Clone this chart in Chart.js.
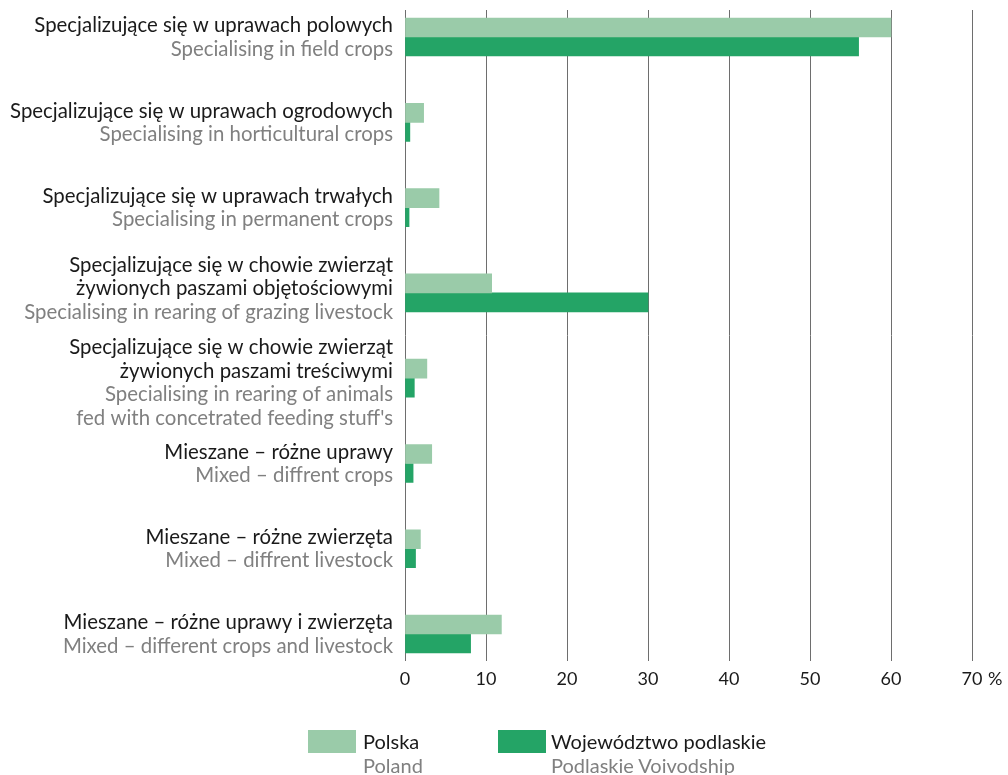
<!DOCTYPE html>
<html>
<head>
<meta charset="utf-8">
<script src="https://cdn.jsdelivr.net/npm/chart.js@4.4.1/dist/chart.umd.min.js"></script>
<style>
  html, body { margin: 0; padding: 0; background: #ffffff; }
  #wrap { position: absolute; left: 0; top: 0; width: 1008px; height: 775px; }
  .lg-sw { position: absolute; top: 730px; width: 48px; height: 23px; }
  .lg-tx { position: absolute; top: 729px; font-family: Lato, "Open Sans", sans-serif; font-size: 20px; line-height: 24px; white-space: nowrap; }
  .lg-tx .pl { color: #1a1a1a; }
  .lg-tx .en { color: #808080; }
</style>
</head>
<body>
<div id="wrap"><canvas id="chart"></canvas></div>
<div class="lg-sw" id="sw1" style="left:308px;"></div>
<div class="lg-tx" style="left:363px;"><div class="pl">Polska</div><div class="en">Poland</div></div>
<div class="lg-sw" id="sw2" style="left:498px;"></div>
<div class="lg-tx" style="left:551px;"><div class="pl">Województwo podlaskie</div><div class="en">Podlaskie Voivodship</div></div>
<script>
// ---- DATA ----
const labelsPL = [
  ["Specjalizujące się w uprawach polowych"],
  ["Specjalizujące się w uprawach ogrodowych"],
  ["Specjalizujące się w uprawach trwałych"],
  ["Specjalizujące się w chowie zwierząt", "żywionych paszami objętościowymi"],
  ["Specjalizujące się w chowie zwierząt", "żywionych paszami treściwymi"],
  ["Mieszane – różne uprawy"],
  ["Mieszane – różne zwierzęta"],
  ["Mieszane – różne uprawy i zwierzęta"]
];
const labelsEN = [
  ["Specialising in field crops"],
  ["Specialising in horticultural crops"],
  ["Specialising in permanent crops"],
  ["Specialising in rearing of grazing livestock"],
  ["Specialising in rearing of animals", "fed with concetrated feeding stuff's"],
  ["Mixed – diffrent crops"],
  ["Mixed – diffrent livestock"],
  ["Mixed – different crops and livestock"]
];
const polska    = [60, 2.3, 4.2, 10.7, 2.7, 3.3, 1.9, 11.9];
const podlaskie = [56, 0.6, 0.5, 30.0, 1.15, 1.0, 1.3, 8.1];
const xTickValues = [0, 10, 20, 30, 40, 50, 60, 70];
const seriesNames = ["Polska", "Województwo podlaskie"];

// ---- STYLE ----
const LIGHT = "#9acba9";
const DARK = "#24a466";
const FONT = "Lato, 'Open Sans', sans-serif";
const TICK_PAD = 7;
document.getElementById("sw1").style.background = LIGHT;
document.getElementById("sw2").style.background = DARK;

const toPoints = arr => arr.map((v, i) => ({ x: v, y: i }));

const labelPlugin = {
  id: "catLabels",
  afterDraw(chart, args, opts) {
    const ctx = chart.ctx;
    const ys = chart.scales.y;
    const xs = chart.scales.x;
    const lh = 23.5, capHalf = 7;
    ctx.save();
    ctx.font = "20.4px " + FONT;
    ctx.textAlign = "right";
    ctx.textBaseline = "alphabetic";
    for (let i = 0; i < labelsPL.length; i++) {
      const lines = labelsPL[i].map(t => [t, "#1a1a1a"]).concat(labelsEN[i].map(t => [t, "#808080"]));
      const c = ys.getPixelForValue(i) + (opts.shift[i] || 0);
      const start = c - (lines.length - 1) / 2 * lh + capHalf;
      lines.forEach((ln, k) => {
        ctx.fillStyle = ln[1];
        ctx.fillText(ln[0], xs.left - 12, start + k * lh);
      });
    }
    // percent sign after the last x tick
    ctx.font = "18px " + FONT;
    ctx.textAlign = "left";
    ctx.textBaseline = "middle";
    ctx.fillStyle = "#1a1a1a";
    const last = xTickValues[xTickValues.length - 1];
    const px = xs.getPixelForValue(last) + ctx.measureText(String(last)).width / 2 + ctx.measureText(" ").width + 1;
    ctx.fillText("%", px, xs.top + TICK_PAD + 10.8);
    ctx.restore();
  }
};

new Chart(document.getElementById("chart"), {
  type: "bar",
  data: {
    datasets: [
      { label: seriesNames[0], data: toPoints(polska), backgroundColor: LIGHT, borderWidth: 0 },
      { label: seriesNames[1], data: toPoints(podlaskie), backgroundColor: DARK, borderWidth: 0 }
    ]
  },
  plugins: [labelPlugin],
  options: {
    indexAxis: "y",
    responsive: true,
    maintainAspectRatio: false,
    animation: false,
    devicePixelRatio: 1,
    barThickness: 19,
    layout: { padding: { left: 405, right: 36, top: 10, bottom: 78 } },
    plugins: {
      legend: { display: false },
      tooltip: { enabled: false },
      catLabels: { shift: [0, 0, 0, -4.5, 4.5, 0, 0, 0] }
    },
    scales: {
      y: {
        type: "linear",
        reverse: true,
        offset: false,
        min: -0.317,
        max: 7.321,
        display: false,
        grid: { offset: false }
      },
      x: {
        type: "linear",
        position: "bottom",
        min: 0,
        max: 70,
        afterBuildTicks(scale) { scale.ticks = xTickValues.map(v => ({ value: v })); },
        grid: { color: "#6e6e6e", lineWidth: 1, drawTicks: false },
        border: { display: false },
        ticks: {
          color: "#1a1a1a",
          font: { family: FONT, size: 18 },
          padding: TICK_PAD,
          maxRotation: 0,
          callback: v => String(v)
        }
      }
    }
  }
});
</script>
</body>
</html>
